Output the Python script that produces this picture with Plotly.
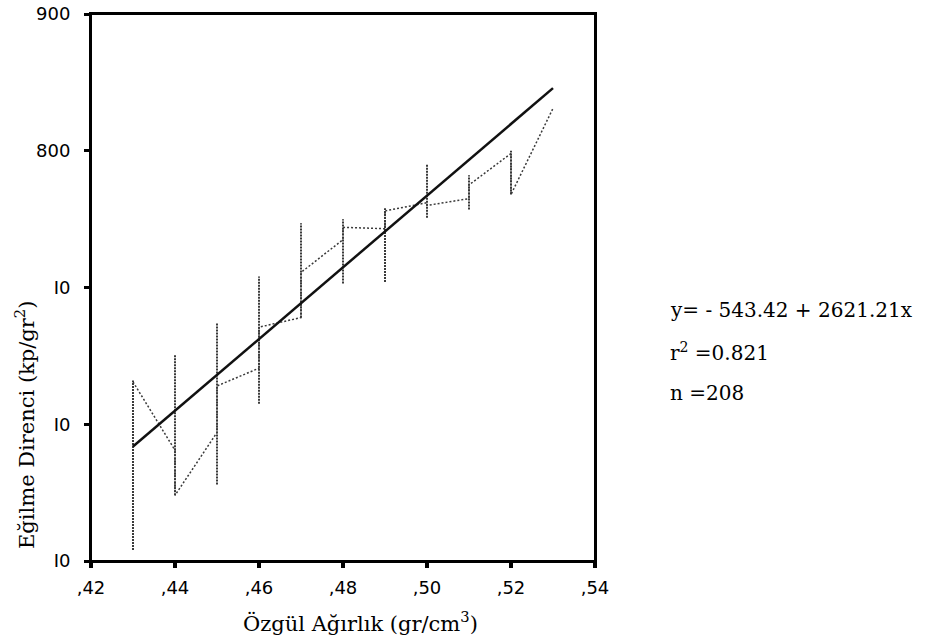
import plotly.graph_objects as go

# ---- data ----
density = [0.43, 0.44, 0.45, 0.46, 0.47, 0.48, 0.49, 0.50, 0.51, 0.52, 0.53]
bar_low = [508, 548, 556, 615, 678, 703, 704, 751, 757, 768, None]
bar_high = [632, 651, 674, 708, 747, 750, 758, 790, 782, 800, None]
line_in = [None, 581, 594, 641, 678, 735, 743, 762, 765, 798, 831]
line_out = [631, 548, 628, 671, 711, 744, 756, 760, 775, 768, None]

intercept = -543.42
slope = 2621.21
fit_x = [0.43, 0.53]

x_tickvals = [0.42, 0.44, 0.46, 0.48, 0.50, 0.52, 0.54]
x_ticktext = [",42", ",44", ",46", ",48", ",50", ",52", ",54"]
y_tickvals = [500, 600, 700, 800, 900]
y_ticktext = ["I0", "I0", "I0", "800", "900"]

# ---- build traces ----
bx, by = [], []
for x, lo, hi in zip(density, bar_low, bar_high):
    if lo is None:
        continue
    bx += [x, x, None]
    by += [lo, hi, None]

lx, ly = [], []
for x, a, b in zip(density, line_in, line_out):
    if a is not None:
        lx.append(x); ly.append(a)
    if b is not None:
        lx.append(x); ly.append(b)

fit_y = [intercept + slope * x for x in fit_x]

fig = go.Figure()
fig.add_trace(go.Scatter(x=bx, y=by, mode="lines",
                         line=dict(color="#3a3a3a", width=2, dash="2px,1px"),
                         showlegend=False, hoverinfo="skip"))
fig.add_trace(go.Scatter(x=lx, y=ly, mode="lines",
                         line=dict(color="#3a3a3a", width=1.5, dash="2px,2px"),
                         showlegend=False))
fig.add_trace(go.Scatter(x=fit_x, y=fit_y, mode="lines",
                         line=dict(color="#111111", width=2.5),
                         showlegend=False))

serif = "DejaVu Serif"
sans = "DejaVu Sans"

fig.update_layout(
    width=930, height=644,
    margin=dict(l=91, r=335, t=14, b=83),
    paper_bgcolor="white", plot_bgcolor="white",
    xaxis=dict(range=[0.42, 0.54], tickvals=x_tickvals, ticktext=x_ticktext,
               showgrid=False, zeroline=False, showline=True, linecolor="black",
               linewidth=2, mirror=True, ticks="outside", ticklen=5, tickwidth=4,
               tickcolor="black", ticklabelstandoff=4, automargin=False,
               ticklabeloverflow="allow",
               tickfont=dict(family=sans, size=18, color="black")),
    yaxis=dict(range=[500, 900], tickvals=y_tickvals, ticktext=y_ticktext,
               showgrid=False, zeroline=False, showline=True, linecolor="black",
               linewidth=2, mirror=True, ticks="outside", ticklen=5, tickwidth=3,
               tickcolor="black", ticklabelstandoff=10, automargin=False,
               ticklabeloverflow="allow",
               tickfont=dict(family=sans, size=18, color="black")),
    shapes=[dict(type="rect", xref="paper", yref="paper", x0=0, x1=1, y0=0, y1=1,
                 line=dict(color="black", width=2), layer="above")],
    annotations=[
        dict(text="Eğilme Direnci (kp/gr<sup>2</sup>)", xref="paper", yref="paper",
             x=-0.131, y=0.2486, textangle=-90, showarrow=False,
             xanchor="center", yanchor="middle",
             font=dict(family=serif, size=21, color="black")),
        dict(text="Özgül Ağırlık (gr/cm<sup>3</sup>)", xref="paper", yref="paper",
             x=0.534, y=-0.1115, showarrow=False, xanchor="center", yanchor="middle",
             font=dict(family=serif, size=21, color="black")),
        dict(text="y= - 543.42 + 2621.21x", xref="paper", yref="paper",
             x=1.145, y=0.459, showarrow=False, xanchor="left", yanchor="middle",
             font=dict(family=serif, size=20, color="black")),
        dict(text="r<sup>2</sup> =0.821", xref="paper", yref="paper",
             x=1.145, y=0.382, showarrow=False, xanchor="left", yanchor="middle",
             font=dict(family=serif, size=20, color="black")),
        dict(text="n =208", xref="paper", yref="paper",
             x=1.145, y=0.307, showarrow=False, xanchor="left", yanchor="middle",
             font=dict(family=serif, size=20, color="black")),
    ],
)

fig.write_html("out.html", config={"displayModeBar": False},
               post_script="document.body.style.margin='0';document.body.style.padding='0';")
